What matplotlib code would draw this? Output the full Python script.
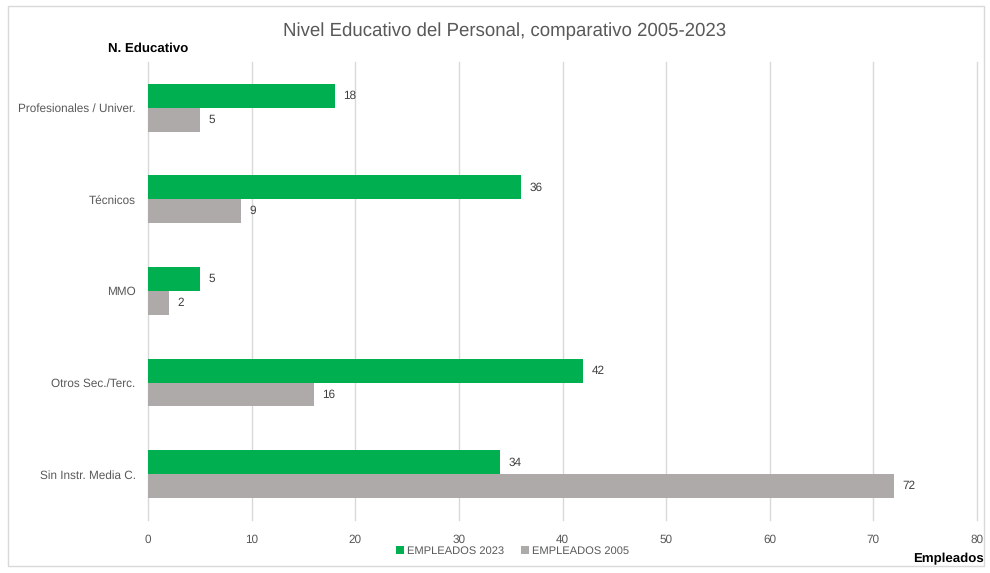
import matplotlib
matplotlib.use("Agg")
import matplotlib.pyplot as plt
from matplotlib.patches import Rectangle
import numpy as np

categories = ["Profesionales / Univer.", "Técnicos", "MMO", "Otros Sec./Terc.", "Sin Instr. Media C."]
empleados_2023 = [18, 36, 5, 42, 34]
empleados_2005 = [5, 9, 2, 16, 72]
series_names = ["EMPLEADOS 2023", "EMPLEADOS 2005"]
x_ticks = [0, 10, 20, 30, 40, 50, 60, 70, 80]

FONT = ["Liberation Sans", "DejaVu Sans"]
plt.rcParams['font.family'] = FONT
plt.rcParams['text.hinting'] = 'no_hinting'

GREEN = "#00B050"
GRAY = "#AEAAAA"
TXT = "#595959"

fig = plt.figure(figsize=(9.9, 5.73), dpi=100)
fig.patch.set_facecolor("white")
fig.patches.append(Rectangle((0.008, 0.012), 0.986, 0.978, transform=fig.transFigure,
                             fill=False, edgecolor="#D9D9D9", linewidth=1.0))

ax = fig.add_axes([0.1495, 0.0925, 0.8374, 0.7995])
y = np.arange(len(categories))
h = 0.26
b1 = ax.barh(y - h / 2, empleados_2023, height=h, color=GREEN, label=series_names[0], zorder=3)
b2 = ax.barh(y + h / 2, empleados_2005, height=h, color=GRAY, label=series_names[1], zorder=3)

for bars, vals in ((b1, empleados_2023), (b2, empleados_2005)):
    for rect, v in zip(bars, vals):
        ax.annotate(str(v), (v, rect.get_y() + rect.get_height() / 2),
                    xytext=(6, 0), textcoords="offset points", va="center", ha="left",
                    fontsize=8.5, color="#404040")

ax.set_ylim(len(categories) - 0.5, -0.5)
ax.set_xlim(0, 80)
ax.set_xticks(x_ticks)
ax.set_yticks(y)
ax.set_yticklabels(categories)
ax.tick_params(axis="both", length=0, colors=TXT, labelsize=8.5)
ax.tick_params(axis="x", pad=10)
ax.tick_params(axis="y", pad=9)
ax.xaxis.grid(True, color="#D9D9D9", linewidth=1.0, zorder=0)
for gl in ax.get_xgridlines():
    gl.set_clip_on(False)
ax.set_axisbelow(True)
for s in ax.spines.values():
    s.set_visible(False)

fig.text(0.51, 0.945, "Nivel Educativo del Personal, comparativo 2005-2023", ha="center", va="center",
         fontsize=13.4, color=TXT)
fig.text(0.150, 0.916, "N. Educativo", ha="center", va="center", fontsize=9.5,
         fontweight="bold", color="black")
fig.text(0.994, 0.025, "Empleados", ha="right", va="center", fontsize=9.5,
         fontweight="bold", color="black")

leg = fig.legend(handles=[b1, b2], loc="center", bbox_to_anchor=(0.518, 0.038), ncol=2,
                 frameon=False, fontsize=8, handlelength=0.7, handleheight=0.7,
                 columnspacing=1.5, handletextpad=0.3, labelcolor=TXT)

fig.savefig("out.png", dpi=100, facecolor="white")
